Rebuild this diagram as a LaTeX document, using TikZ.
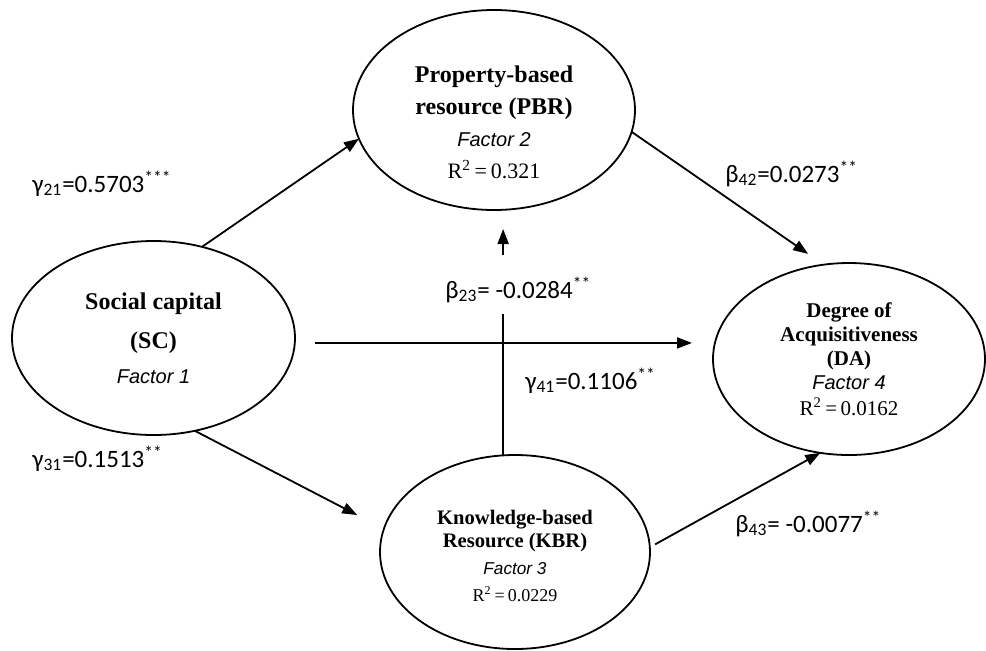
\documentclass[tikz,border=0pt]{standalone}
\usepackage{fontspec}
\setmainfont{Liberation Serif}
\newfontfamily\lblfont{Carlito}
\newfontfamily\facfont{Liberation Sans}
\usetikzlibrary{arrows.meta,shapes.geometric}

% Riga "Factor n" e riga R^2 dentro le ellissi
\newcommand{\factorlbl}[2]{{\facfont\mdseries\itshape\fontsize{#1}{#1}\selectfont Factor #2}}
\newcommand{\rsqlbl}[2]{{\mdseries\upshape\fontsize{#1}{#1}\selectfont R\textsuperscript{2}\,=\,#2}}

\begin{document}
\begin{tikzpicture}[x=0.5pt, y=-0.5pt,
    factor/.style={ellipse, draw, line width=0.9pt, inner sep=0pt, outer sep=0pt, align=center},
    effect/.style={-{Triangle[length=7.5pt,width=5.5pt]}, line width=0.9pt},
    coef/.style={font=\lblfont\fontsize{12.5}{14}\selectfont, anchor=base west, inner sep=0pt}]

    % Riquadro della figura
    \useasboundingbox (0,0) rectangle (986,650);

    % Variabili latenti
    \node[factor, minimum width=141.5pt, minimum height=97pt, font=\bfseries\fontsize{12}{19.5}\selectfont]
        (SC) at (153.5,338) {Social capital\\ (SC)\\[-2pt] \factorlbl{10}{1}};
    \node[factor, minimum width=141pt, minimum height=100pt, font=\bfseries\fontsize{12}{16}\selectfont]
        (PBR) at (494,110) {\rule{0pt}{21pt}Property-based\\ resource (PBR)\\ \factorlbl{10}{2}\\ \rsqlbl{11}{0.321}};
    \node[factor, minimum width=136pt, minimum height=96pt, font=\bfseries\fontsize{10.5}{12}\selectfont]
        (DA) at (849,359) {Degree of\\ Acquisitiveness\\ (DA)\\ \factorlbl{10}{4}\\[1pt] \rsqlbl{10.5}{0.0162}};
    \node[factor, minimum width=135pt, minimum height=97pt, font=\bfseries\fontsize{10.3}{13.5}\selectfont]
        (KBR) at (515,552) {\rule{0pt}{11.5pt}Knowledge-based\\[-2pt] Resource (KBR)\\ \factorlbl{8.6}{3}\\ \rsqlbl{9}{0.0229}};

    % Coefficienti dei percorsi
    \node[coef] (g21) at (32,192)  {γ\textsubscript{21}=0.5703\textsuperscript{***}};
    \node[coef] (b42) at (725,182) {β\textsubscript{42}=0.0273\textsuperscript{**}};
    \node[coef] (b23) at (445,298) {β\textsubscript{23}= -0.0284\textsuperscript{**}};
    \node[coef] (g41) at (525,389) {γ\textsubscript{41}=0.1106\textsuperscript{**}};
    \node[coef] (g31) at (32,467)  {γ\textsubscript{31}=0.1513\textsuperscript{**}};
    \node[coef] (b43) at (735,532) {β\textsubscript{43}= -0.0077\textsuperscript{**}};

    % Frecce tra le variabili
    \draw[effect] (SC.62) -- (PBR.192);
    \draw[effect, shorten >=9.5pt] (PBR.-9) -- (DA.105);
    \draw[effect, shorten <=10pt, shorten >=10.5pt] (SC.-2) -- (SC.-2 -| DA.west);
    \draw[effect, shorten >=15pt] (SC.-66) -- (KBR.170);
    \draw[effect, shorten <=3pt] (KBR.2) -- (DA.253.5);

    % Percorso KBR -> PBR interrotto dal coefficiente
    \draw[line width=0.9pt, shorten >=5.5pt] (KBR.97) -- (KBR.97 |- b23.south);
    \draw[effect, shorten <=10.5pt, shorten >=9.5pt] (KBR.97 |- b23.north) -- (KBR.97 |- PBR.south);

\end{tikzpicture}
\end{document}
